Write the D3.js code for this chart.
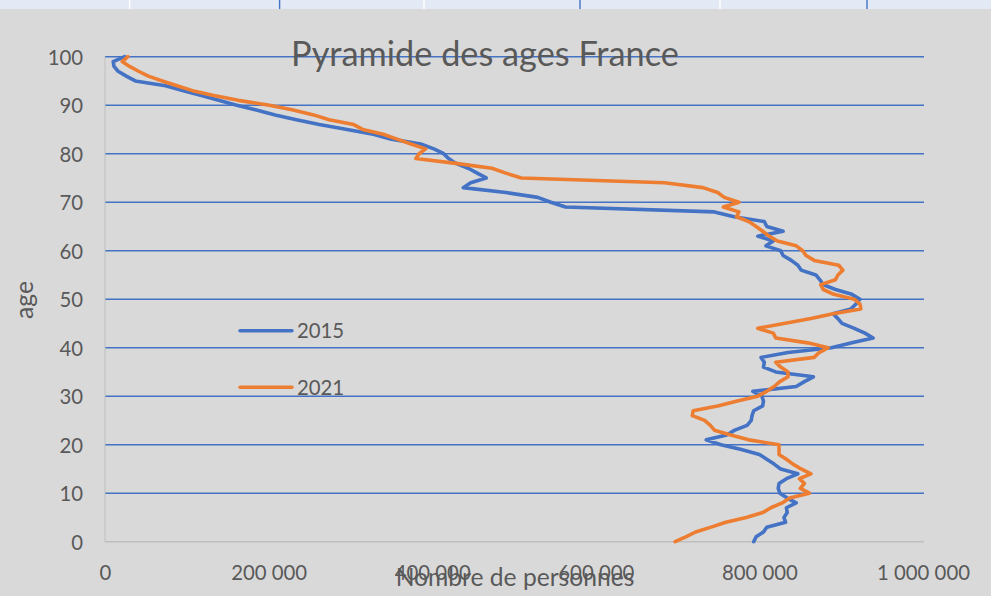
<!DOCTYPE html>
<html><head><meta charset="utf-8">
<script src="https://cdn.jsdelivr.net/npm/d3@7"></script>
<style>html,body{margin:0;padding:0;background:#d9d9d9;overflow:hidden}svg{display:block}</style>
</head><body>
<svg id="chart" width="991" height="596"></svg>
<script>
const ages = [0,1,2,3,4,5,6,7,8,9,10,11,12,13,14,15,16,17,18,19,20,21,22,23,24,25,26,27,28,29,30,31,32,33,34,35,36,37,38,39,40,41,42,43,44,45,46,47,48,49,50,51,52,53,54,55,56,57,58,59,60,61,62,63,64,65,66,67,68,69,70,71,72,73,74,75,76,77,78,79,80,81,82,83,84,85,86,87,88,89,90,91,92,93,94,95,96,97,98,99,100];
const pop2015 = [793000,796000,805000,809000,832000,830000,834000,833000,845000,834000,825000,823000,824000,833000,847000,826000,818000,809000,800000,778000,753000,735000,760000,770000,785000,790000,791000,793000,804000,805000,803000,792000,845000,855000,866000,820000,805000,806000,802000,835000,888000,913000,939000,929000,916000,901000,896000,890000,912000,918000,923000,913000,893000,878000,874000,869000,851000,847000,839000,829000,826000,808000,817000,798000,829000,809000,806000,769000,745000,563000,545000,529000,490000,438000,447000,466000,455000,444000,429000,420000,414000,402000,386000,350000,328000,296000,262000,234000,208000,185000,161000,139000,118000,96000,74000,37000,26000,16000,11000,10000,24000];
const pop2021 = [697000,710000,722000,741000,759000,784000,804000,814000,828000,837000,861000,850000,855000,849000,863000,851000,841000,833000,824000,824000,824000,787000,765000,745000,740000,733000,718000,719000,749000,773000,798000,809000,818000,825000,835000,835000,826000,820000,867000,873000,884000,859000,820000,817000,798000,830000,863000,890000,924000,923000,916000,891000,878000,875000,893000,896000,902000,897000,867000,857000,853000,845000,822000,812000,804000,796000,787000,772000,775000,756000,775000,757000,749000,731000,684000,509000,490000,473000,429000,380000,384000,392000,374000,357000,340000,315000,304000,274000,255000,230000,201000,163000,133000,107000,88000,70000,53000,41000,30000,21000,28000];
const seriesNames = ["2015", "2021"];
const xTicks = [0, 200000, 400000, 600000, 800000, 1000000];
const yTicks = [0, 10, 20, 30, 40, 50, 60, 70, 80, 90, 100];
const titleText = "Pyramide des ages France";
const xTitle = "Nombre de personnes";
const yTitle = "age";
const topStripLines = [{x:129.6,c:"#ffffff"},{x:279.6,c:"#4472c4"},{x:424,c:"#ffffff"},{x:580,c:"#4472c4"},{x:720,c:"#ffffff"},{x:867,c:"#4472c4"}];

const colors = ["#4472c4", "#ed7d31"];
const textColor = "#595959";
const FONT = "Lato, 'Open Sans', 'Liberation Sans', sans-serif";

const svg = d3.select("#chart");
svg.append("rect").attr("width", 991).attr("height", 596).attr("fill", "#d9d9d9");

// top strip (spreadsheet header remnant)
svg.append("rect").attr("x",0).attr("y",0).attr("width",991).attr("height",9).attr("fill","#e3eaf5");
svg.selectAll("line.strip").data(topStripLines).enter().append("line")
  .attr("x1",d=>d.x).attr("x2",d=>d.x).attr("y1",0).attr("y2",9)
  .attr("stroke",d=>d.c).attr("stroke-width",1.4);

const x = d3.scaleLinear().domain([0, 1000000]).range([105, 923]);
const y = d3.scaleLinear().domain([0, 100]).range([541.7, 56.7]);

const fr = d3.formatLocale({decimal: ",", thousands: " ", grouping: [3], currency: ["", " €"]});
const fmt = fr.format(",");

function fitWidth(sel, target) {
  const w = sel.node().getComputedTextLength();
  const s = parseFloat(sel.attr("font-size"));
  if (w > 0) sel.attr("font-size", s * target / w);
  return parseFloat(sel.attr("font-size"));
}

// gridlines
svg.append("g").selectAll("line").data(yTicks.filter(t => t > 0)).enter().append("line")
  .attr("x1", 105).attr("x2", 924)
  .attr("y1", d => y(d)).attr("y2", d => y(d))
  .attr("stroke", "#4472c4").attr("stroke-width", 1.5);

// axes lines
svg.append("line").attr("x1", 105).attr("x2", 924).attr("y1", y(0)).attr("y2", y(0))
  .attr("stroke", "#bfbfbf").attr("stroke-width", 1.5);
svg.append("line").attr("x1", 105).attr("x2", 105).attr("y1", y(100)).attr("y2", y(0))
  .attr("stroke", "#bfbfbf").attr("stroke-width", 1);

// measure tick font size
const probe = svg.append("text").attr("font-family", FONT).attr("font-size", 20).text(fmt(200000));
const tickSize = fitWidth(probe, 76);
probe.remove();

// x axis tick labels via d3 axis
const xAxis = d3.axisBottom(x).tickValues(xTicks).tickFormat(fmt).tickSize(0).tickPadding(0);
const gx = svg.append("g").attr("transform", "translate(0,0)").call(xAxis);
gx.select(".domain").remove();
gx.selectAll("text").attr("y", 580).attr("dy", null)
  .attr("font-family", FONT).attr("font-size", tickSize).attr("fill", textColor);

// y axis tick labels via d3 axis
const yAxis = d3.axisLeft(y).tickValues(yTicks).tickSize(0).tickPadding(0);
const gy = svg.append("g").call(yAxis);
gy.select(".domain").remove();
gy.selectAll("text").attr("x", 83).attr("dy", "0.36em")
  .attr("font-family", FONT).attr("font-size", tickSize).attr("fill", textColor).attr("text-anchor", "end");

// series lines
const line = d3.line().x(d => x(d.v)).y(d => y(d.a));
const series = [pop2015, pop2021].map((vals, i) => ({name: seriesNames[i], pts: ages.map((a, j) => ({a, v: vals[j]}))}));
svg.append("g").selectAll("path").data(series).enter().append("path")
  .attr("d", d => line(d.pts))
  .attr("fill", "none").attr("stroke", (d, i) => colors[i])
  .attr("stroke-width", 3.6).attr("stroke-linejoin", "round").attr("stroke-linecap", "round");

// title
const t = svg.append("text").attr("x", 485).attr("y", 66).attr("text-anchor", "middle")
  .attr("font-family", FONT).attr("font-size", 32).attr("fill", textColor).text(titleText);
fitWidth(t, 388);

// x title
const xt = svg.append("text").attr("x", 515).attr("y", 586).attr("text-anchor", "middle")
  .attr("font-family", FONT).attr("font-size", 22).attr("fill", textColor).text(xTitle);
const axisTitleSize = fitWidth(xt, 239);

// y title
svg.append("text").attr("transform", "translate(33,300) rotate(-90)").attr("text-anchor", "middle")
  .attr("font-family", FONT).attr("font-size", axisTitleSize).attr("fill", textColor).text(yTitle);

// legend
const legendY = [330.7, 387.3];
const lg = svg.append("g").selectAll("g").data(series).enter().append("g");
lg.append("line").attr("x1", 240).attr("x2", 292).attr("y1", (d, i) => legendY[i]).attr("y2", (d, i) => legendY[i])
  .attr("stroke", (d, i) => colors[i]).attr("stroke-width", 3.4).attr("stroke-linecap", "round");
lg.append("text").attr("x", 297).attr("y", (d, i) => legendY[i]).attr("dy", "0.36em")
  .attr("font-family", FONT).attr("font-size", tickSize).attr("fill", textColor).text(d => d.name);
</script>
</body></html>
